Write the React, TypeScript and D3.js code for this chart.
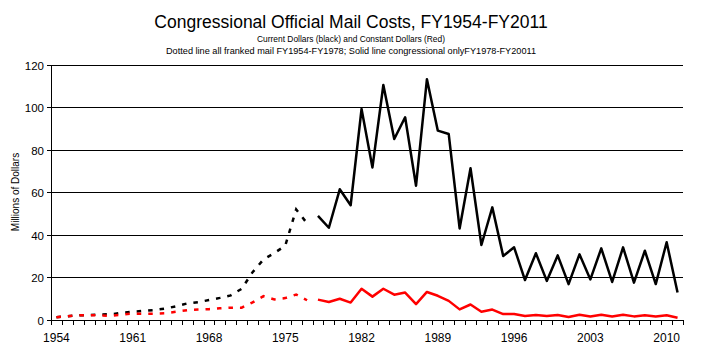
import React from "react";
import * as d3 from "d3";

const dottedYears = d3.range(1954, 1978);
const solidYears = d3.range(1978, 2012);
const blackDotted = [1.3, 1.8, 2.2, 2.3, 2.6, 2.7, 3.4, 3.9, 4.3, 4.7, 5.4, 6.5, 7.8, 8.4, 9.4, 10.4, 11.6, 14.7, 22.5, 28.5, 31.5, 35, 52, 45.5];
const redDotted = [1.3, 1.8, 2.2, 2.3, 2.1, 2.0, 2.6, 3.0, 3.0, 3.0, 3.2, 3.9, 4.6, 4.9, 5.1, 5.5, 5.8, 5.8, 8.3, 11.2, 9.7, 10.3, 12.0, 9.3];
const blackSolid = [49, 43.4, 61.5, 54, 99.3, 71.8, 110.6, 85.2, 95.4, 63.2, 113.3, 89.1, 87.5, 43.1, 71.4, 35.3, 53, 30.1, 34.2, 18.8, 31.4, 18.4, 30.4, 16.9, 30.9, 19.1, 33.7, 17.9, 34.2, 17.6, 32.6, 16.9, 36.6, 12.9];
const redSolid = [9.6, 8.5, 10, 8.2, 14.7, 11, 14.7, 11.9, 12.9, 7.5, 13.2, 11.4, 9.0, 5.0, 7.3, 3.9, 4.9, 2.8, 2.8, 1.9, 2.35, 1.9, 2.35, 1.4, 2.5, 1.6, 2.5, 1.6, 2.5, 1.7, 2.2, 1.7, 2.2, 1.1];
const yTicks = [0, 20, 40, 60, 80, 100, 120];
const xLabels = [1954, 1961, 1968, 1975, 1982, 1989, 1996, 2003, 2010];

const W = 702, H = 362;
const FONT = "Arial, 'Liberation Sans', sans-serif";

export default function App() {
  const x = d3.scaleLinear().domain([1953.5, 2011.5]).range([51, 683]);
  const y = d3.scaleLinear().domain([0, 120]).range([320, 65]);
  const line = d3.line<[number, number]>().x(d => x(d[0])).y(d => y(d[1]));
  const zip = (yrs: number[], vals: number[]) => yrs.map((yr, i) => [yr, vals[i]] as [number, number]);
  const boundaries = d3.range(1953.5, 2012, 1);
  const dash = "4.5 7";
  return (
    <svg width={W} height={H} style={{ position: "absolute", left: 0, top: 0, background: "#fff" }}>
      <rect x={0} y={0} width={W} height={H} fill="#fff" />
      <text x={351} y={28} textAnchor="middle" fontFamily={FONT} fontSize={17.5}>Congressional Official Mail Costs, FY1954-FY2011</text>
      <text x={351} y={42} textAnchor="middle" fontFamily={FONT} fontSize={9} textLength={188} lengthAdjust="spacingAndGlyphs">Current Dollars (black) and Constant  Dollars (Red)</text>
      <text x={351} y={54} textAnchor="middle" fontFamily={FONT} fontSize={9} textLength={370} lengthAdjust="spacingAndGlyphs">Dotted line all franked mail FY1954-FY1978; Solid line congressional onlyFY1978-FY20011</text>
      {yTicks.map(t => (
        <g key={t}>
          <line x1={47} x2={683} y1={y(t)} y2={y(t)} stroke="#000" strokeWidth={1} shapeRendering="crispEdges" />
          <text x={44} y={y(t) + 4.5} textAnchor="end" fontFamily={FONT} fontSize={11.5}>{t}</text>
        </g>
      ))}
      <line x1={51} x2={51} y1={y(120)} y2={y(0)} stroke="#000" strokeWidth={1} shapeRendering="crispEdges" />
      {boundaries.map(b => (
        <line key={b} x1={Math.round(x(b))} x2={Math.round(x(b))} y1={320} y2={325} stroke="#000" strokeWidth={1} shapeRendering="crispEdges" />
      ))}
      {xLabels.map(l => (
        <text key={l} x={x(l)} y={342} textAnchor="middle" fontFamily={FONT} fontSize={12}>{l}</text>
      ))}
      <text transform={`translate(19,${192}) rotate(-90)`} textAnchor="middle" fontFamily={FONT} fontSize={10}>Millions of Dollars</text>
      <path d={line(zip(dottedYears, blackDotted)) || ""} fill="none" stroke="#000" strokeWidth={2.5} strokeDasharray={dash} />
      <path d={line(zip(solidYears, blackSolid)) || ""} fill="none" stroke="#000" strokeWidth={2.5} strokeLinejoin="round" />
      <path d={line(zip(dottedYears, redDotted)) || ""} fill="none" stroke="#ff0000" strokeWidth={2.5} strokeDasharray={dash} />
      <path d={line(zip(solidYears, redSolid)) || ""} fill="none" stroke="#ff0000" strokeWidth={2.5} strokeLinejoin="round" />
    </svg>
  );
}
